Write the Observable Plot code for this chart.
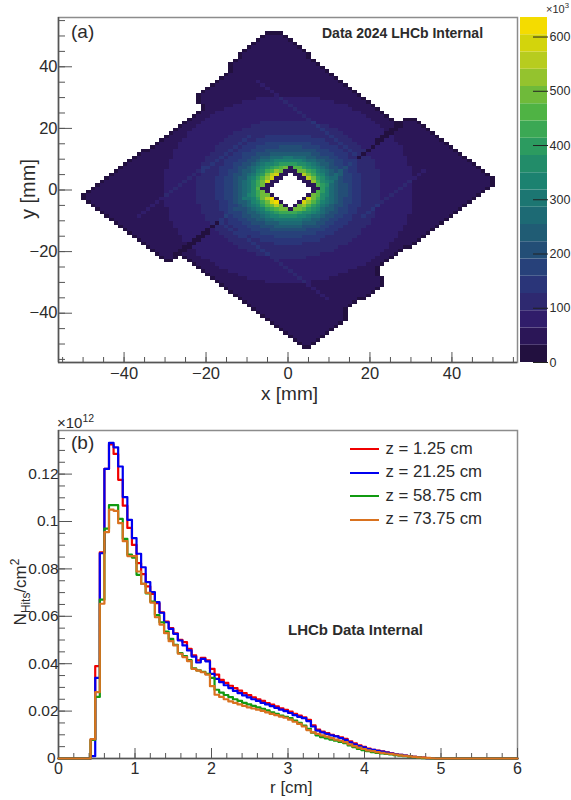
<!DOCTYPE html>
<html><head><meta charset="utf-8">
<script src="https://cdn.jsdelivr.net/npm/d3@7"></script>
<script src="https://cdn.jsdelivr.net/npm/@observablehq/plot@0.6"></script>
<style>
html,body{margin:0;padding:0;background:#fff}
#page{position:relative;width:571px;height:800px;overflow:hidden;font-family:"Liberation Sans",Arial,sans-serif;color:#2b2b2b}
#page svg{position:absolute;background:transparent}
.t{position:absolute;white-space:nowrap;line-height:1}
.lg{position:absolute;height:2px;width:29px;left:350px}
sup,sub{font-size:70%;line-height:0}
</style></head><body><div id="page"></div>
<script>
// ---------- Panel (a) ----------
const bandColors = ["#22103f","#2b1657","#301d6a","#2e2970","#2a3579","#27417a","#234e76","#205c74","#1d6a74","#1c7672",
  "#1c8270","#228c69","#2c9b60","#3ba854","#4fb344","#6fba3a","#94c32e","#b7cc1f","#d3d40c","#f4dc00"];
const bandWidth = 31.8;                     // colour bar: 20 bands up to about 636 (×10³)
const barTicks = [0,100,200,300,400,500,600];
// outer radius (mm) of each ring, brightest band (19) first, down to band 2
const ringOuterRadius = [5.5,5.9,6.3,6.7,7.1,7.5,7.9,8.4,9,9.7,10.4,11.3,12.5,14,15.8,18,22.5,30.5];
// sensor outline (mm)
const outline = [[-4.8,51.8],[-2.3,51.8],[27,21.7],[29,23.6],[30.2,23.6],[50.2,3.9],[50.2,1.2],[22.3,-25.6],[22.3,-28],[23.3,-28],[23.3,-31],
  [14.3,-39.1],[14.3,-42.4],[5.4,-51],[3.3,-51],[-25.6,-21.8],[-26.4,-21.3],[-28.5,-23.1],[-30.2,-23.1],[-50.6,-2.3],[-50,-1.3],
  [-21.1,26.6],[-21.1,27.9],[-22.3,28.5],[-22.3,31.2],[-13.8,39.3],[-14.8,39.5],[-14.8,41]];
const holeCentre = [0.6,0.25], holeHalfDiagonal = 5.4, holeRimHalfDiagonal = 7.2;
const tipHalfWidth = 2.5, tipBandCap = 15, sideBandCap = 17;
// streaks: x1,y1,x2,y2 (mm), band offset
const streaks = [[9.5,2,17.6,10.7,1],[-16.6,-10.4,-9.7,-1.8,1],[-36.2,-8.3,-8.9,18.2,1],[33.9,6.9,18.4,-8.3,1],[-16.6,-9.9,9.9,-35.3,1],[-7.7,36,16.8,11.2,1]];
// dark slits: x1,y1,x2,y2 (mm)
const slits = [[17.8,10.9,27.4,21.5],[-17,-10.4,-27.2,-21.3]];

const nBins = 100, xyMax = 56, cell = 2*xyMax/nBins;
function segDist(px,py,[a,b,c,d]){const dx=c-a,dy=d-b;const t=Math.max(0,Math.min(1,((px-a)*dx+(py-b)*dy)/(dx*dx+dy*dy)));return Math.hypot(px-a-t*dx,py-b-t*dy);}
const inside=(i,j)=>d3.polygonContains(outline,[-xyMax+(i+.5)*cell,xyMax-(j+.5)*cell]);
const mapValues=[];
for(let j=0;j<nBins;j++)for(let i=0;i<nBins;i++){
  const x=-xyMax+(i+.5)*cell,y=xyMax-(j+.5)*cell;
  if(!inside(i,j)){mapValues.push(NaN);continue;}
  const cx=x-holeCentre[0],cy=y-holeCentre[1];
  const l1=Math.abs(cx)+Math.abs(cy);
  if(l1<holeHalfDiagonal){mapValues.push(NaN);continue;}
  let band;
  if(l1<holeRimHalfDiagonal) band=1;
  else if(!inside(i-1,j)||!inside(i+1,j)||!inside(i,j-1)||!inside(i,j+1)) band=0;
  else if(slits.some(s=>segDist(x,y,s)<0.6)) band=0;
  else{
    const r=Math.hypot(x-0.2,y-0.3);
    const k=ringOuterRadius.findIndex(o=>r<o);
    band=k<0?1:19-k;
    if(Math.abs(cx)<tipHalfWidth||Math.abs(cy)<tipHalfWidth) band=Math.min(band,tipBandCap);
    else if(cx*cy<0) band=Math.min(band,sideBandCap+1);
    else if(cx>0) band=Math.min(band,sideBandCap);
    for(const s of streaks) if(segDist(x,y,s)<0.42) band=Math.min(19,band+s[4]);
  }
  mapValues.push((band+.5)*bandWidth);
}
const thresholds=d3.range(1,20).map(k=>k*bandWidth);
const colorOpt={type:"threshold",domain:thresholds,range:bandColors};
const minus=d=>String(d).replace("-","\u2212");

// ---------- Panel (b): bin contents, r bins of 0.06 cm starting at r = 0.42 cm ----------
const binWidth=0.06, firstBin=0.42;
const z125=[.008,.039,.087,.1222,.1325,.1285,.1176,.1067,.0973,.0901,.0824,.0778,.0726,.0695,.0655,.0617,.0578,.055,.0528,.0501,.0491,.0463,.0435,.0414,.0425,.0414,.0378,.0354,.0332,.0319,.0307,.0297,.0286,.0276,.0267,.0258,.025,.0243,.0234,.0227,.022,.0212,.0205,.0198,.0188,.0181,.0174,.0163,.014,.0122,.0113,.0107,.01,.0095,.0089,.0083,.0072,.0064,.0055,.0049,.0042,.0037,.0033,.003,.0026,.0022,.0018,.0015,.0012,.001,.0007,.0005,.0004,.0002,.0001];
const z2125=[.001,.034,.0866,.1222,.1332,.1313,.1232,.1103,.1007,.093,.0864,.0807,.0744,.0702,.066,.0615,.0575,.0547,.0526,.0498,.0477,.0456,.043,.0405,.042,.041,.0357,.0336,.0322,.0309,.0297,.0285,.0276,.0266,.0258,.025,.0243,.0235,.0228,.0221,.0214,.0206,.02,.0192,.0183,.0176,.017,.0158,.0135,.0118,.011,.0104,.0098,.0093,.0086,.0079,.0068,.006,.0052,.0047,.004,.0036,.0032,.0029,.0025,.0021,.0018,.0015,.0012,.001,.0007,.0005,.0003,.0002,.0001];
const z5875=[.0078,.026,.067,.097,.1069,.1069,.1011,.0927,.086,.0848,.0775,.0737,.0697,.0662,.0605,.0575,.0535,.0505,.048,.0445,.0432,.0415,.038,.0372,.0366,.0357,.034,.029,.0278,.0268,.0259,.025,.0243,.0235,.0228,.0222,.0216,.021,.0203,.0195,.0188,.0181,.0176,.017,.016,.015,.0139,.0125,.0109,.0098,.009,.0085,.008,.0075,.007,.0065,.0055,.0048,.004,.0035,.0031,.0027,.0024,.0021,.0019,.0017,.0014,.0012,.001,.0008,.0006,.0004,.0002,.0001,0];
const z7375=[.0082,.028,.0653,.0955,.105,.1045,.0993,.0917,.0854,.0854,.0789,.0737,.0699,.0658,.0596,.0565,.0529,.0495,.0477,.0442,.0428,.0411,.0378,.0371,.0364,.0354,.0305,.0269,.026,.025,.0241,.0235,.0228,.0222,.0216,.0211,.0206,.0201,.0195,.0188,.0183,.0177,.0172,.0164,.0155,.0146,.0135,.012,.011,.0104,.0098,.0092,.0086,.008,.0075,.0069,.006,.0052,.0046,.004,.0034,.0031,.0027,.0024,.0021,.0019,.0016,.0013,.0011,.0009,.0007,.0005,.0004,.0003,.0001];
const seriesNames=["z = 1.25 cm","z = 21.25 cm","z = 58.75 cm","z = 73.75 cm"];
const seriesColors=["#f00000","#0000f0","#109a10","#d9721f"];
const seriesValues=[z125,z2125,z5875,z7375];
const histRows=seriesNames.flatMap((name,s)=>{
  const v=seriesValues[s],rows=[{z:name,r:0,n:0},{z:name,r:firstBin,n:0}];
  v.forEach((n,i)=>rows.push({z:name,r:firstBin+i*binWidth,n}));
  rows.push({z:name,r:firstBin+v.length*binWidth,n:0},{z:name,r:6,n:0});
  return rows;
});

// ---------- Drawing ----------
const page=document.getElementById("page");
const axisStyle={fontFamily:"'Liberation Sans',Arial,sans-serif",color:"#2b2b2b",background:"transparent"};
const tickColor="#555";

const plotA=Plot.plot({
  width:571,height:410,marginLeft:58,marginRight:54,marginTop:17,marginBottom:48,style:axisStyle,
  x:{domain:[-56,56],label:null},y:{domain:[-56,56],label:null},color:colorOpt,
  marks:[
    Plot.raster(mapValues,{width:nBins,height:nBins,x1:-xyMax,x2:xyMax,y1:xyMax,y2:-xyMax,imageRendering:"pixelated"}),
    Plot.frame({stroke:"#8c8c8c",strokeWidth:1.5}),
    Plot.ruleX([-56],{stroke:tickColor,strokeWidth:1.5}),Plot.ruleY([-56],{stroke:tickColor,strokeWidth:1.5}),
    Plot.axisX({ticks:d3.range(-55,56,5),tickSize:-5,stroke:tickColor,tickFormat:()=>"" ,anchor:"bottom"}),
    Plot.axisX({ticks:[-40,-20,0,20,40],tickSize:-10,stroke:tickColor,tickPadding:15,tickFormat:minus,fontSize:16.5,anchor:"bottom"}),
    Plot.axisY({ticks:d3.range(-55,56,5),tickSize:-7,stroke:tickColor,tickFormat:()=>"",anchor:"left"}),
    Plot.axisY({ticks:[-40,-20,0,20,40],tickSize:-14,stroke:tickColor,tickPadding:15,tickFormat:minus,fontSize:16.5,anchor:"left"})
  ]});
plotA.style.left="0";plotA.style.top="0";page.append(plotA);
plotA.querySelectorAll("image").forEach(im=>im.style.filter="blur(0.5px)");

const bars=bandColors.map((c,k)=>({lo:k*bandWidth,hi:(k+1)*bandWidth,mid:(k+.5)*bandWidth}));
const plotBar=Plot.plot({
  width:51,height:410,marginLeft:0,marginRight:24,marginTop:17,marginBottom:48,style:axisStyle,
  x:{domain:[0,1],axis:null},y:{domain:[0,20*bandWidth],label:null,axis:null},color:colorOpt,
  marks:[
    Plot.rect(bars,{x1:0,x2:1,y1:"lo",y2:"hi",fill:"mid"}),
    Plot.axisY({anchor:"right",ticks:barTicks,tickSize:-15,stroke:"#222",tickPadding:17,fontSize:12.5})
  ]});
plotBar.style.left="520px";plotBar.style.top="0";page.append(plotBar);

const plotB=Plot.plot({
  width:571,height:375,marginLeft:58,marginRight:54,marginTop:5,marginBottom:42,style:axisStyle,
  x:{domain:[0,6],label:null},y:{domain:[0,.1384],label:null},
  color:{domain:seriesNames,range:seriesColors},
  marks:[
    Plot.frame({stroke:"#8c8c8c",strokeWidth:1.5}),
    Plot.ruleX([0],{stroke:tickColor,strokeWidth:1.5}),Plot.ruleY([0],{stroke:tickColor,strokeWidth:1.5}),
    Plot.axisX({ticks:d3.range(0,6.01,.2),tickSize:-5,stroke:tickColor,tickFormat:()=>"",anchor:"bottom"}),
    Plot.axisX({ticks:[0,1,2,3,4,5,6],tickSize:-10,stroke:tickColor,tickPadding:14,tickFormat:d=>d,fontSize:16,anchor:"bottom"}),
    Plot.axisY({ticks:d3.range(0,.1351,.005),tickSize:-7,stroke:tickColor,tickFormat:()=>"",anchor:"left"}),
    Plot.axisY({ticks:[.02,.04,.06,.08,.1,.12],tickSize:-14,stroke:tickColor,tickPadding:14,tickFormat:d=>d3.format("~g")(d),fontSize:15.5,anchor:"left"}),
    Plot.axisY({ticks:[0],tickSize:-14,stroke:tickColor,tickPadding:17,tickFormat:()=>"0",fontSize:15.5,anchor:"left"}),
    Plot.line(histRows,{x:"r",y:"n",z:"z",stroke:"z",curve:"step-after",strokeWidth:2.2})
  ]});
plotB.style.left="0";plotB.style.top="425px";page.append(plotB);

function txt(html,x,y,css=""){const d=document.createElement("div");d.className="t";d.innerHTML=html;d.style.cssText+=`left:${x}px;top:${y}px;${css}`;page.append(d);return d;}
txt("(a)",71,22,"font-size:19px");
txt("Data 2024 LHCb Internal",322,25.5,"font-weight:bold;font-size:14px");
txt("x [mm]",261,384,"font-size:19px");
txt("y [mm]",28,189,"font-size:20px;transform:translate(-50%,-50%) rotate(-90deg)");
txt("&times;10<sup>3</sup>",546,4,"font-size:11px");
txt("(b)",71,433,"font-size:19px");
txt("&times;10<sup>12</sup>",57,415,"font-size:15px");
txt("LHCb Data Internal",288,622,"font-weight:bold;font-size:15px");
txt("r [cm]",270,779,"font-size:17px");
txt("N<sub>Hits</sub>/cm<sup>2</sup>",20,592,"font-size:17px;transform:translate(-50%,-50%) rotate(-90deg)");
const legendY=[449,472.7,496,519.5];
seriesNames.forEach((n,i)=>{
  const l=document.createElement("div");l.className="lg";l.style.top=(legendY[i]-1)+"px";l.style.background=seriesColors[i];page.append(l);
  txt(n,385.5,legendY[i]-8.5,"font-size:16.8px");
});
</script></body></html>
